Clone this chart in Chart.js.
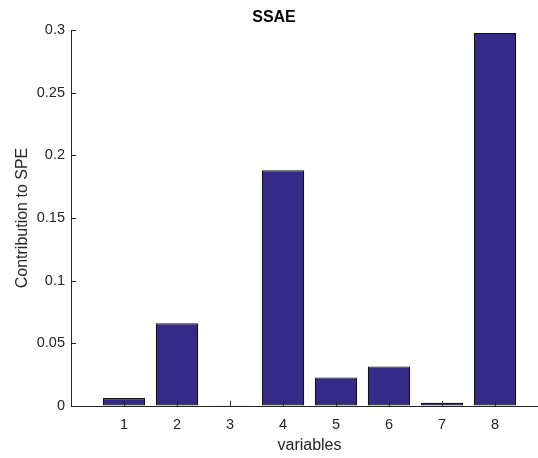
<!DOCTYPE html>
<html>
<head>
<meta charset="utf-8">
<script src="https://cdn.jsdelivr.net/npm/chart.js@4.4.1/dist/chart.umd.min.js"></script>
<style>
  html, body { margin: 0; padding: 0; background: #fff; overflow: hidden; }
  canvas { display: block; }
</style>
</head>
<body>
<canvas id="chart" width="548" height="458"></canvas>
<script>
// --- DATA ---
const variables = [1, 2, 3, 4, 5, 6, 7, 8];
const contribution = [0.0064, 0.066, 0.0005, 0.188, 0.0228, 0.0316, 0.0026, 0.2977];
const yTicks = [0, 0.05, 0.1, 0.15, 0.2, 0.25, 0.3];
const yTickLabels = ['0', '0.05', '0.1', '0.15', '0.2', '0.25', '0.3'];
const xTickLabels = ['1', '2', '3', '4', '5', '6', '7', '8'];

// --- STYLE ---
const axisColor = '#262626';
const barColor = 'rgb(53, 42, 135)';
const fontFamily = '"Liberation Sans", Arial, Helvetica, sans-serif';

// MATLAB style ticks pointing into the plot area
const inwardTicks = {
    id: 'inwardTicks',
    afterDatasetsDraw(chart) {
        const { ctx, chartArea, scales: { x, y } } = chart;
        ctx.save();
        ctx.strokeStyle = axisColor;
        ctx.lineWidth = 1;
        ctx.beginPath();
        x.ticks.forEach((t, i) => {
            const px = Math.round(x.getPixelForTick(i)) + 0.5;
            ctx.moveTo(px, chartArea.bottom);
            ctx.lineTo(px, chartArea.bottom - 5);
        });
        y.ticks.forEach((t, i) => {
            const py = Math.round(y.getPixelForTick(i)) + 0.5;
            ctx.moveTo(chartArea.left, py);
            ctx.lineTo(chartArea.left + 5, py);
        });
        ctx.stroke();
        ctx.restore();
    }
};

new Chart(document.getElementById('chart'), {
    type: 'bar',
    data: {
        datasets: [{
            data: variables.map((v, i) => ({ x: v, y: contribution[i] })),
            backgroundColor: barColor,
            borderColor: '#111',
            borderWidth: 1.2,
            borderSkipped: false,
            barPercentage: 0.8,
            categoryPercentage: 1
        }]
    },
    options: {
        responsive: false,
        animation: false,
        layout: { padding: 0 },
        plugins: {
            legend: { display: false },
            tooltip: { enabled: false },
            title: {
                display: true,
                text: 'SSAE',
                color: '#000',
                font: { family: fontFamily, size: 16, weight: 'bold', lineHeight: 1.2 },
                padding: { top: 8, bottom: 2.8 }
            }
        },
        scales: {
            x: {
                type: 'linear',
                min: 0,
                max: 9,
                offset: false,
                afterBuildTicks: scale => { scale.ticks = variables.map(v => ({ value: v })); },
                afterFit: scale => { scale.height = 52; },
                ticks: {
                    color: axisColor,
                    font: { family: fontFamily, size: 14.5 },
                    padding: 10,
                    maxRotation: 0,
                    callback: (value, index) => xTickLabels[index]
                },
                grid: { drawOnChartArea: false, drawTicks: false, offset: false },
                border: { display: true, color: axisColor, width: 1 },
                title: {
                    display: true,
                    text: 'variables',
                    color: axisColor,
                    font: { family: fontFamily, size: 16, lineHeight: 1.2 },
                    padding: { top: 0, bottom: 3 }
                }
            },
            y: {
                min: 0,
                max: 0.3,
                afterBuildTicks: scale => { scale.ticks = yTicks.map(v => ({ value: v })); },
                afterFit: scale => { scale.width = 71; },
                ticks: {
                    color: axisColor,
                    font: { family: fontFamily, size: 14.5 },
                    padding: 6,
                    callback: (value, index) => yTickLabels[index]
                },
                grid: { drawOnChartArea: false, drawTicks: false },
                border: { display: true, color: axisColor, width: 1 },
                title: {
                    display: true,
                    text: 'Contribution to SPE',
                    color: axisColor,
                    font: { family: fontFamily, size: 16, lineHeight: 1.2 },
                    padding: { top: 13, bottom: 0 }
                }
            }
        }
    },
    plugins: [inwardTicks]
});
</script>
</body>
</html>
